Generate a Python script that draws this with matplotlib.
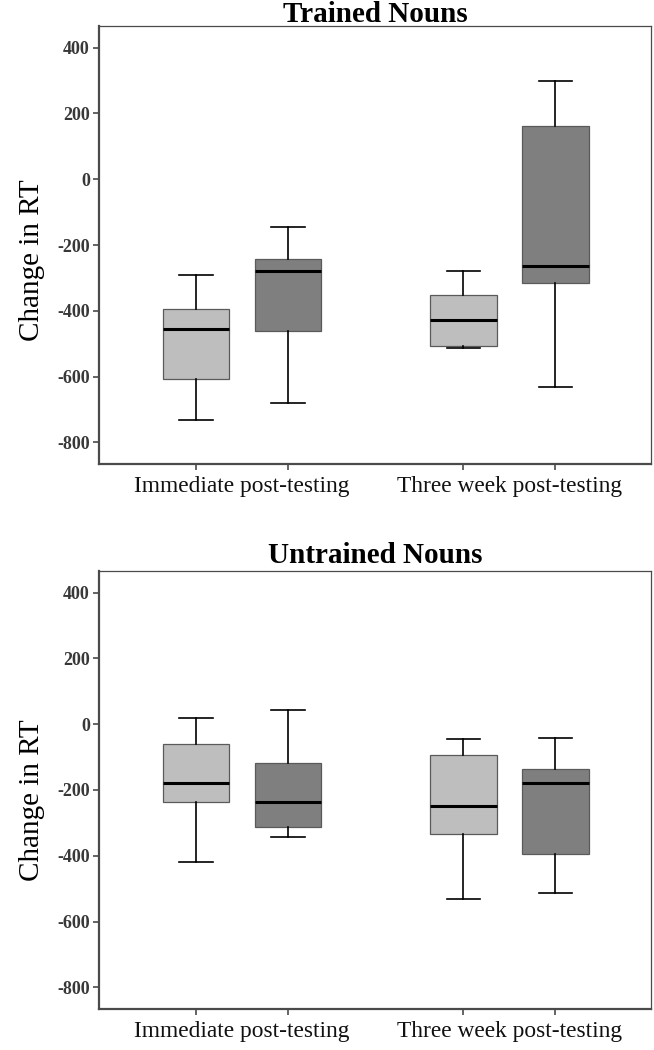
import matplotlib
matplotlib.use("Agg")
import matplotlib.pyplot as plt

# ---- data ----
groups = ["Immediate post-testing", "Three week post-testing"]
conditions = ["light", "dark"]
yticks = [-800, -600, -400, -200, 0, 200, 400]
ytick_labels = ["-800", "-600", "-400", "-200", "0", "200", "400"]

# order: Immediate-light, Immediate-dark, ThreeWeek-light, ThreeWeek-dark
trained_whislo = [-733, -681, -513, -632]
trained_q1     = [-608, -462, -508, -315]
trained_med    = [-455, -280, -429, -263]
trained_q3     = [-394, -243, -353, 161]
trained_whishi = [-292, -145, -280, 299]

untrained_whislo = [-420, -343, -531, -514]
untrained_q1     = [-236, -314, -335, -396]
untrained_med    = [-180, -237, -248, -180]
untrained_q3     = [-59, -119, -93, -136]
untrained_whishi = [18, 44, -45, -41]

box_colors = ["#bebebe", "#7f7f7f", "#bebebe", "#7f7f7f"]

serif = ["Liberation Serif", "DejaVu Serif"]

fig = plt.figure(figsize=(6.54, 10.5), dpi=100)
ax_top = fig.add_axes([99/654, 1-464/1050, (651-99)/654, (464-26)/1050])
ax_bot = fig.add_axes([99/654, 1-1009/1050, (651-99)/654, (1009-571)/1050])

group_centers = [1, 2]
dodge = 0.172
positions = [group_centers[0]-dodge, group_centers[0]+dodge,
             group_centers[1]-dodge, group_centers[1]+dodge]


def draw(ax, title, wlo, q1, med, q3, whi, title_y, ylab_y):
    stats = []
    for i in range(4):
        stats.append(dict(whislo=wlo[i], q1=q1[i], med=med[i], q3=q3[i],
                          whishi=whi[i], fliers=[]))
    bp = ax.bxp(stats, positions=positions, widths=0.25, patch_artist=True,
                showfliers=False, manage_ticks=False,
                boxprops=dict(edgecolor="#5a5a5a", linewidth=0.9),
                medianprops=dict(color="black", linewidth=2.2),
                whiskerprops=dict(color="black", linewidth=1.2),
                capprops=dict(color="black", linewidth=1.2),
                capwidths=0.125)
    for patch, c in zip(bp["boxes"], box_colors):
        patch.set_facecolor(c)
    ax.set_xlim(0.465, 2.53)
    ax.set_ylim(-866, 466)
    ax.set_yticks(yticks)
    ax.set_yticklabels(ytick_labels, fontfamily=serif, fontweight="bold",
                       fontsize=13, color="#383838")
    ax.set_xticks(positions)
    ax.set_xticklabels([])
    ax.set_xticks(group_centers, minor=True)
    ax.set_xticklabels(groups, minor=True, fontfamily=serif, fontsize=16.8,
                       color="#111111")
    ax.tick_params(axis="x", which="minor", length=0, pad=8.5)
    ax.tick_params(axis="x", which="major", length=4.5, width=1.2,
                   color="#4a4a4a")
    ax.tick_params(axis="y", length=4.5, width=1.2, color="#4a4a4a", pad=2)
    for side in ["left", "bottom"]:
        ax.spines[side].set_linewidth(1.6)
        ax.spines[side].set_color("#4a4a4a")
    for side in ["top", "right"]:
        ax.spines[side].set_linewidth(0.9)
        ax.spines[side].set_color("#4a4a4a")
    ax.set_title(title, fontfamily=serif, fontweight="bold", fontsize=21,
                 y=title_y, va="baseline", pad=0)
    ax.set_ylabel("Change in RT", fontfamily=serif, fontsize=21)
    ax.yaxis.set_label_coords(-0.098, ylab_y)


draw(ax_top, "Trained Nouns", trained_whislo, trained_q1, trained_med,
     trained_q3, trained_whishi, 1.0091, 0.466)
draw(ax_bot, "Untrained Nouns", untrained_whislo, untrained_q1, untrained_med,
     untrained_q3, untrained_whishi, 1.018, 0.477)

fig.savefig("out.png", dpi=100)
